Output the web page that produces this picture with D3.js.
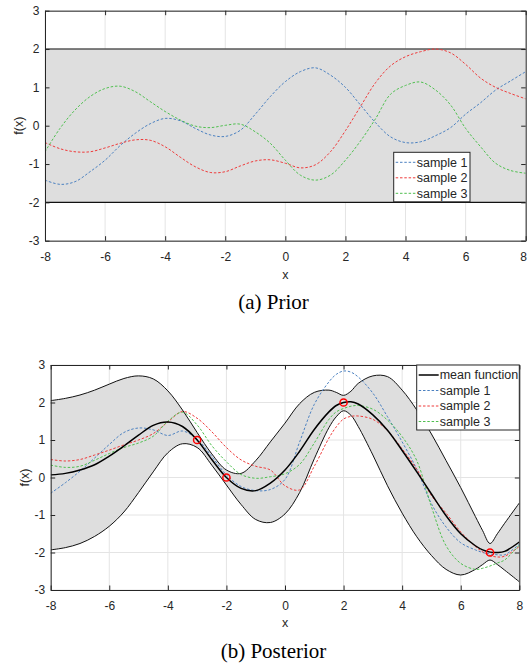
<!DOCTYPE html>
<html>
<head>
<meta charset="utf-8">
<script src="https://cdn.jsdelivr.net/npm/d3@7"></script>
<style>
  html, body { margin: 0; padding: 0; background: #ffffff; }
  svg { display: block; }
  .tick text { font-family: "Liberation Sans", Arial, Helvetica, sans-serif; }
</style>
</head>
<body>
<script>
// ---------- Prior panel data ----------
const priorX = [-8,-7.5,-7,-6.5,-6,-5.5,-5,-4.5,-4,-3.5,-3,-2.5,-2,-1.5,-1,-0.5,0,0.5,1,1.5,2,2.5,3,3.5,4,4.5,5,5.5,6,6.5,7,7.5,8];
const priorSample1 = [-1.42,-1.53,-1.46,-1.2,-0.9,-0.52,-0.2,0.05,0.19,0.13,-0.07,-0.24,-0.28,-0.12,0.3,0.76,1.15,1.41,1.51,1.32,1.0,0.54,0.08,-0.29,-0.44,-0.42,-0.26,-0.05,0.3,0.6,0.93,1.17,1.41];
const priorSample2 = [-0.44,-0.6,-0.68,-0.68,-0.58,-0.46,-0.37,-0.38,-0.55,-0.82,-1.07,-1.22,-1.2,-1.05,-0.92,-0.89,-0.98,-1.1,-1.02,-0.68,-0.13,0.5,1.12,1.56,1.8,1.93,2.0,1.9,1.6,1.24,1.0,0.84,0.7];
const priorSample3 = [-0.68,-0.07,0.41,0.76,0.97,1.03,0.89,0.63,0.37,0.15,-0.01,-0.05,0.01,0.04,-0.16,-0.46,-0.9,-1.29,-1.42,-1.29,-0.9,-0.4,0.18,0.82,1.05,1.14,0.93,0.54,-0.07,-0.55,-0.98,-1.17,-1.24];
const priorBand = [-2, 2];

// ---------- Posterior panel data ----------
const postX = [-8,-7.5,-7,-6.5,-6,-5.5,-5,-4.5,-4,-3.5,-3,-2.5,-2,-1.5,-1,-0.5,0,0.5,1,1.5,1.75,2,2.25,2.5,3,3.5,4,4.5,5,5.5,6,6.5,6.75,7,7.25,7.5,8];
const postMean  = [0.07,0.11,0.2,0.34,0.57,0.84,1.13,1.39,1.48,1.36,1.0,0.48,0.0,-0.29,-0.35,-0.15,0.2,0.7,1.28,1.75,1.92,2.0,2.02,1.96,1.67,1.26,0.72,0.15,-0.44,-1.02,-1.5,-1.82,-1.93,-1.99,-2.0,-1.97,-1.72];
const postUpper = [2.05,2.11,2.2,2.33,2.49,2.64,2.71,2.63,2.31,1.8,1.2,0.63,0.2,0.11,0.45,0.95,1.45,1.97,2.27,2.33,2.27,2.19,2.3,2.51,2.71,2.69,2.33,1.8,1.16,0.45,-0.27,-1.04,-1.42,-1.76,-1.5,-1.22,-0.68];
const postLower = [-1.93,-1.87,-1.76,-1.57,-1.3,-0.92,-0.4,0.15,0.66,0.9,0.8,0.33,-0.2,-0.72,-1.12,-1.2,-0.97,-0.4,0.5,1.33,1.62,1.78,1.66,1.36,0.6,-0.22,-0.95,-1.58,-2.08,-2.45,-2.6,-2.45,-2.32,-2.2,-2.32,-2.47,-2.78];
const postSample1 = [-0.42,-0.14,0.17,0.52,0.88,1.2,1.32,1.27,1.12,1.24,1.02,0.56,0.07,-0.24,-0.35,-0.32,-0.05,0.95,1.95,2.55,2.75,2.84,2.81,2.68,2.25,1.62,0.95,0.22,-0.7,-1.32,-1.74,-1.93,-2.0,-2.04,-2.06,-2.06,-1.78];
const postSample2 = [0.48,0.44,0.48,0.6,0.73,0.87,1.0,1.17,1.48,1.76,1.58,1.22,0.8,0.47,0.3,0.2,-0.22,-0.33,0.3,1.05,1.35,1.56,1.63,1.64,1.55,1.25,0.76,0.22,-0.48,-0.95,-1.45,-1.84,-1.98,-2.08,-2.12,-2.1,-1.84];
const postSample3 = [0.33,0.27,0.3,0.46,0.64,0.8,0.92,1.1,1.5,1.74,1.4,0.85,0.42,0.08,-0.02,0.02,0.1,0.35,0.92,1.55,1.75,1.84,1.9,1.92,1.82,1.53,1.09,0.45,-0.78,-1.82,-2.29,-2.45,-2.42,-2.36,-2.28,-2.2,-1.8];
const obsX = [-3, -2, 2, 7];
const obsY = [1, 0, 2, -2];

// ---------- Axis ticks, labels ----------
const xTicks = [-8,-6,-4,-2,0,2,4,6,8];
const yTicks = [-3,-2,-1,0,1,2,3];
const sampleNames = ["sample 1", "sample 2", "sample 3"];
const meanName = "mean function";
const captions = ["(a) Prior", "(b) Posterior"];

const sampleColors = ["#4b80c0", "#ee3b3b", "#4fbf4f"];
const axisColor = "#262626";
const gridColor = "#e4e4e4";
const bandColor = "#dedede";
const sansFont = '"Liberation Sans", Arial, Helvetica, sans-serif';
const serifFont = '"Liberation Serif", "Times New Roman", Times, serif';
const pageWidth = 527;

const svg = d3.select("body").append("svg")
  .attr("width", pageWidth).attr("height", 669);

function makePanel(box) {
  const x = d3.scaleLinear().domain([-8, 8]).range([box.left, box.right]);
  const y = d3.scaleLinear().domain([-3, 3]).range([box.bottom, box.top]);
  const g = svg.append("g");
  const clipId = "clip" + Math.round(box.top);
  svg.append("clipPath").attr("id", clipId).append("rect")
    .attr("x", box.left).attr("y", box.top)
    .attr("width", box.right - box.left).attr("height", box.bottom - box.top);

  // grid
  const grid = g.append("g").attr("stroke", gridColor).attr("stroke-width", 1);
  grid.selectAll(".gx").data(xTicks).join("line")
    .attr("x1", d => x(d)).attr("x2", d => x(d))
    .attr("y1", box.top).attr("y2", box.bottom);
  grid.selectAll(".gy").data(yTicks).join("line")
    .attr("x1", box.left).attr("x2", box.right)
    .attr("y1", d => y(d)).attr("y2", d => y(d));

  const plot = g.append("g").attr("clip-path", `url(#${clipId})`);
  return { x, y, g, plot, box };
}

function finishAxes(p, xLabelY, yLabelX) {
  const { x, y, g, box } = p;
  const styleAxis = sel => {
    sel.selectAll("path, line").attr("stroke", axisColor).attr("stroke-width", 1);
    sel.selectAll("text").attr("fill", axisColor).style("font-size", "12px").style("font-family", sansFont);
  };
  const bottomAxis = g.append("g").attr("transform", `translate(0,${box.bottom})`)
    .call(d3.axisBottom(x).tickValues(xTicks).tickFormat(d3.format("d")).tickSizeInner(-4.5).tickSizeOuter(0).tickPadding(11.5))
    .call(styleAxis);
  g.append("g").attr("transform", `translate(0,${box.top})`)
    .call(d3.axisTop(x).tickValues(xTicks).tickFormat("").tickSizeInner(-4.5).tickSizeOuter(0))
    .call(styleAxis);
  g.append("g").attr("transform", `translate(${box.left},0)`)
    .call(d3.axisLeft(y).tickValues(yTicks).tickFormat(d3.format("d")).tickSizeInner(-4.5).tickSizeOuter(0).tickPadding(5.5))
    .call(styleAxis);
  g.append("g").attr("transform", `translate(${box.right},0)`)
    .call(d3.axisRight(y).tickValues(yTicks).tickFormat("").tickSizeInner(-4.5).tickSizeOuter(0))
    .call(styleAxis);
  g.selectAll(".tick text").text(function () { return this.textContent.replace("\u2212", "-"); });

  // keep the last tick label inside the page when the axis reaches the edge
  bottomAxis.selectAll(".tick").filter(d => d === 8).select("text")
    .attr("text-anchor", box.right > pageWidth - 4 ? "end" : "middle")
    .attr("x", box.right > pageWidth - 4 ? pageWidth - box.right - 0.5 : 0);

  g.append("text").attr("x", (box.left + box.right) / 2).attr("y", xLabelY)
    .attr("text-anchor", "middle").attr("fill", axisColor)
    .style("font-family", sansFont).style("font-size", "12.5px").text("x");
  g.append("text")
    .attr("transform", `translate(${yLabelX},${(box.top + box.bottom) / 2}) rotate(-90)`)
    .attr("text-anchor", "middle").attr("dy", "0.35em").attr("fill", axisColor)
    .style("font-family", sansFont).style("font-size", "12.5px").text("f(x)");
}

function legend(p, lx, ly, w, rows) {
  const rowH = 15.5;
  const h = rows.length * rowH + 3;
  const lg = p.g.append("g");
  lg.append("rect").attr("x", lx).attr("y", ly).attr("width", w).attr("height", h)
    .attr("fill", "#ffffff").attr("stroke", axisColor).attr("stroke-width", 1);
  rows.forEach((r, i) => {
    const cy = ly + 10 + i * rowH;
    lg.append("line").attr("x1", lx + 2).attr("x2", lx + 22).attr("y1", cy).attr("y2", cy)
      .attr("stroke", r.color).attr("stroke-width", r.width)
      .attr("stroke-dasharray", r.dash || null);
    lg.append("text").attr("x", lx + 23).attr("y", cy).attr("dy", "0.35em")
      .attr("fill", axisColor).style("font-family", sansFont).style("font-size", "12.5px")
      .text(r.name);
  });
}

const dash = "2.5,1.8";
const curve = d3.curveCatmullRom.alpha(0.5);

// ---------- (a) Prior ----------
const pa = makePanel({ left: 45, right: 525.7, top: 10.7, bottom: 240.7 });
pa.plot.append("rect")
  .attr("x", pa.x(-8)).attr("width", pa.x(8) - pa.x(-8))
  .attr("y", pa.y(priorBand[1])).attr("height", pa.y(priorBand[0]) - pa.y(priorBand[1]))
  .attr("fill", bandColor);
priorBand.forEach(b => {
  pa.plot.append("line").attr("x1", pa.x(-8)).attr("x2", pa.x(8))
    .attr("y1", pa.y(b)).attr("y2", pa.y(b)).attr("stroke", "#111").attr("stroke-width", 1.1);
});
[priorSample1, priorSample2, priorSample3].forEach((s, i) => {
  const line = d3.line().x((d, j) => pa.x(priorX[j])).y(d => pa.y(d)).curve(curve);
  pa.plot.append("path").datum(s).attr("d", line).attr("fill", "none")
    .attr("stroke", sampleColors[i]).attr("stroke-width", 1).attr("stroke-dasharray", dash);
});
finishAxes(pa, 278.5, 18.5);
legend(pa, 393.7, 152.3, 76.3,
  sampleNames.map((n, i) => ({ name: n, color: sampleColors[i], width: 1, dash })));

svg.append("text").attr("x", 273.5).attr("y", 309).attr("text-anchor", "middle")
  .style("font-family", serifFont).style("font-size", "21px").attr("fill", "#000")
  .text(captions[0]);

// ---------- (b) Posterior ----------
const pb = makePanel({ left: 50.7, right: 519.3, top: 365, bottom: 590 });
const area = d3.area().x((d, j) => pb.x(postX[j]))
  .y0((d, j) => pb.y(postLower[j])).y1((d, j) => pb.y(postUpper[j])).curve(curve);
pb.plot.append("path").datum(postX).attr("d", area).attr("fill", bandColor);
const postLine = d3.line().x((d, j) => pb.x(postX[j])).y(d => pb.y(d)).curve(curve);
[postUpper, postLower].forEach(s => {
  pb.plot.append("path").datum(s).attr("d", postLine).attr("fill", "none")
    .attr("stroke", "#111").attr("stroke-width", 1);
});
[postSample1, postSample2, postSample3].forEach((s, i) => {
  pb.plot.append("path").datum(s).attr("d", postLine).attr("fill", "none")
    .attr("stroke", sampleColors[i]).attr("stroke-width", 1).attr("stroke-dasharray", dash);
});
pb.plot.append("path").datum(postMean).attr("d", postLine).attr("fill", "none")
  .attr("stroke", "#000").attr("stroke-width", 1.5);
pb.plot.selectAll(".obs").data(obsX).join("circle")
  .attr("cx", d => pb.x(d)).attr("cy", (d, i) => pb.y(obsY[i])).attr("r", 3.6)
  .attr("fill", "none").attr("stroke", "#ff0000").attr("stroke-width", 1.5);
finishAxes(pb, 627, 25);
legend(pb, 416.7, 365, 102.6,
  [{ name: meanName, color: "#000", width: 1.5 }]
    .concat(sampleNames.map((n, i) => ({ name: n, color: sampleColors[i], width: 1, dash }))));

svg.append("text").attr("x", 273.5).attr("y", 658).attr("text-anchor", "middle")
  .style("font-family", serifFont).style("font-size", "21px").attr("fill", "#000")
  .text(captions[1]);
</script>
</body>
</html>
